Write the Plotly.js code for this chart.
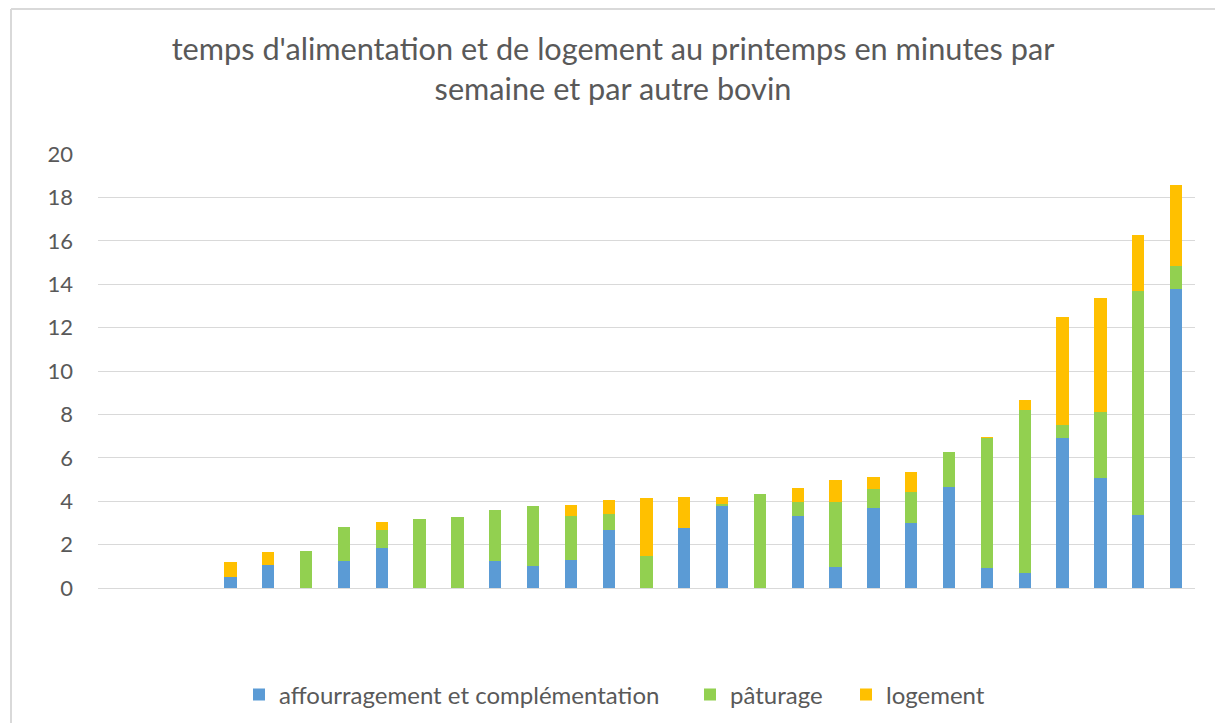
<!DOCTYPE html>
<html>
<head>
<meta charset="utf-8">
<script src="https://cdn.plot.ly/plotly-3.0.1.min.js"></script>
<style>html,body{margin:0;padding:0;background:#fff;} #chart{width:1215px;height:723px;}</style>
</head>
<body>
<div id="chart"></div>
<script>
const categories = ["1","2","3","4","5","6","7","8","9","10","11","12","13","14","15","16","17","18","19","20","21","22","23","24","25","26","27","28","29"];
const affouragement = [0,0,0,0.51,1.08,0,1.23,1.86,0,0,1.23,1.03,1.27,2.66,0,2.75,3.78,0,3.32,0.97,3.69,3.01,4.67,0.92,0.71,6.91,5.08,3.36,13.79];
const paturage      = [0,0,0,0,0,1.69,1.57,0.83,3.16,3.27,2.35,2.75,2.05,0.77,1.49,0,0.08,4.35,0.63,2.98,0.89,1.41,1.61,5.98,7.49,0.59,3.03,10.33,1.03];
const logement      = [0,0,0,0.67,0.56,0,0,0.37,0,0,0,0,0.52,0.61,2.66,1.44,0.33,0,0.66,1.03,0.55,0.93,0,0.06,0.48,4.97,5.25,2.59,3.77];
const seriesNames = ["affourragement et complémentation","pâturage","logement"];
const colors = ["#5b9bd5","#92d050","#ffc000"];
const titleText = "temps d'alimentation et de logement au printemps en minutes par<br>semaine et par autre bovin";

const FONT = "Lato, 'Open Sans', sans-serif";
const values = [affouragement, paturage, logement];
const legendIds = ['legend','legend2','legend3'];
const traces = values.map((v,i)=>({
  type:'bar', x:categories, y:v, name:seriesNames[i], legend:legendIds[i],
  marker:{color:colors[i], line:{width:0}}, hoverinfo:'y+name'
}));

// plot area: x 98..1195, y 154..588
const L=98, R=1195, T=154, B=588;
const pw=R-L, ph=B-T;
const legendStarts = [239, 690, 846];
function legendCfg(px){
  return {orientation:'h', x:(px-L)/pw, xanchor:'left', y:(B-695)/ph, yanchor:'middle',
          font:{family:FONT, size:24, color:'#595959'}, itemwidth:30, borderwidth:0, bgcolor:'rgba(0,0,0,0)'};
}
const layout = {
  width:1215, height:723,
  margin:{l:L, r:1215-R, t:T, b:723-B, pad:0, autoexpand:false},
  paper_bgcolor:'#fff', plot_bgcolor:'#fff',
  barmode:'stack', bargap:0.675,
  font:{family:FONT, color:'#595959', size:20},
  title:{text:titleText, font:{family:FONT, size:30.7, color:'#595959'},
         x:613/1215, xanchor:'center', xref:'container', y:1-60/723, yanchor:'middle', yref:'container'},
  xaxis:{type:'category', showticklabels:false, showgrid:false, zeroline:false, showline:false, ticks:'', fixedrange:true},
  yaxis:{range:[0,20], dtick:2, tick0:0, showgrid:true, gridcolor:'#d9d9d9', gridwidth:1,
         zeroline:true, zerolinecolor:'#d9d9d9', zerolinewidth:1, showline:false, ticks:'',
         ticklabelstandoff:24, tickfont:{family:FONT, size:22, color:'#595959'}, fixedrange:true},
  legend:legendCfg(legendStarts[0]),
  legend2:legendCfg(legendStarts[1]),
  legend3:legendCfg(legendStarts[2]),
  showlegend:true,
  shapes:[
    {type:'line', xref:'paper', yref:'paper', x0:(11-L)/pw, x1:(1215-L)/pw, y0:(B-9)/ph, y1:(B-9)/ph, line:{color:'#d9d9d9', width:2}},
    {type:'line', xref:'paper', yref:'paper', x0:(11-L)/pw, x1:(11-L)/pw, y0:(B-9)/ph, y1:(B-723)/ph, line:{color:'#d9d9d9', width:2}}
  ]
};
Plotly.newPlot('chart', traces, layout, {displayModeBar:false, staticPlot:true});
</script>
</body>
</html>
